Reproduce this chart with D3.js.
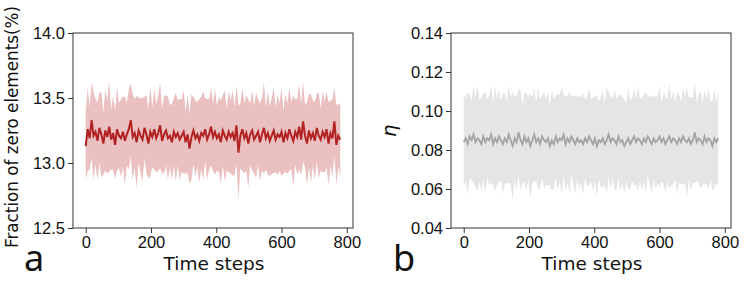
<!DOCTYPE html>
<html lang="en">
<head>
<script src="https://cdnjs.cloudflare.com/ajax/libs/d3/7.8.5/d3.min.js"></script>
<style>
	body { margin: 0; background: #fff; }
	svg { display: block; font-family: "DejaVu Sans", sans-serif; }
	.tick text { font-size: 16.5px; fill: #111; }
	.tick line { stroke: #333; }
</style>
</head>
<body>
<svg id="chart" width="747" height="282"></svg>
<script>
// time steps are sampled every 6 steps, 0..780
const stepSize = 6;

const meanZero = [13.13, 13.26, 13.19, 13.33, 13.21, 13.24, 13.17, 13.27, 13.22, 13.15, 13.25, 13.20, 13.28, 13.18, 13.23, 13.14, 13.26, 13.21, 13.19, 13.24, 13.17, 13.22, 13.26, 13.33, 13.20, 13.23, 13.16, 13.25, 13.21, 13.18, 13.27, 13.22, 13.15, 13.24, 13.20, 13.26, 13.19, 13.23, 13.29, 13.17, 13.22, 13.25, 13.19, 13.21, 13.16, 13.24, 13.20, 13.23, 13.18, 13.21, 13.24, 13.16, 13.22, 13.11, 13.20, 13.25, 13.19, 13.22, 13.17, 13.23, 13.21, 13.26, 13.18, 13.22, 13.28, 13.20, 13.24, 13.19, 13.22, 13.16, 13.25, 13.21, 13.18, 13.24, 13.20, 13.23, 13.17, 13.29, 13.08, 13.21, 13.26, 13.19, 13.23, 13.15, 13.22, 13.25, 13.18, 13.21, 13.24, 13.16, 13.22, 13.27, 13.19, 13.23, 13.17, 13.21, 13.25, 13.18, 13.22, 13.20, 13.24, 13.16, 13.23, 13.19, 13.26, 13.21, 13.17, 13.24, 13.20, 13.28, 13.18, 13.32, 13.21, 13.15, 13.25, 13.19, 13.23, 13.17, 13.27, 13.21, 13.18, 13.24, 13.20, 13.26, 13.15, 13.23, 13.19, 13.32, 13.14, 13.21, 13.18];
const sdZero = [0.26, 0.32, 0.24, 0.29, 0.34, 0.25, 0.30, 0.27, 0.33, 0.24, 0.31, 0.28, 0.35, 0.23, 0.29, 0.26, 0.32, 0.25, 0.30, 0.27, 0.34, 0.24, 0.31, 0.28, 0.33, 0.26, 0.36, 0.25, 0.29, 0.32, 0.24, 0.30, 0.27, 0.34, 0.23, 0.31, 0.26, 0.29, 0.33, 0.25, 0.30, 0.27, 0.32, 0.24, 0.29, 0.26, 0.34, 0.25, 0.31, 0.28, 0.32, 0.24, 0.30, 0.27, 0.33, 0.26, 0.29, 0.25, 0.32, 0.28, 0.34, 0.24, 0.31, 0.27, 0.30, 0.26, 0.33, 0.25, 0.29, 0.32, 0.27, 0.35, 0.24, 0.31, 0.28, 0.33, 0.26, 0.30, 0.36, 0.25, 0.32, 0.27, 0.29, 0.34, 0.24, 0.31, 0.26, 0.33, 0.25, 0.30, 0.28, 0.35, 0.24, 0.32, 0.27, 0.29, 0.33, 0.25, 0.31, 0.26, 0.34, 0.24, 0.30, 0.27, 0.32, 0.26, 0.35, 0.25, 0.29, 0.33, 0.27, 0.31, 0.24, 0.32, 0.28, 0.34, 0.25, 0.30, 0.26, 0.33, 0.24, 0.31, 0.27, 0.29, 0.32, 0.25, 0.30, 0.26, 0.31, 0.24, 0.28];

const meanEta = [0.084, 0.086, 0.083, 0.087, 0.085, 0.088, 0.084, 0.086, 0.085, 0.083, 0.087, 0.084, 0.086, 0.085, 0.088, 0.083, 0.086, 0.084, 0.087, 0.085, 0.083, 0.086, 0.084, 0.088, 0.085, 0.082, 0.086, 0.084, 0.089, 0.085, 0.083, 0.087, 0.084, 0.086, 0.082, 0.085, 0.088, 0.084, 0.086, 0.083, 0.087, 0.085, 0.084, 0.086, 0.082, 0.085, 0.083, 0.087, 0.084, 0.086, 0.085, 0.088, 0.083, 0.086, 0.084, 0.087, 0.085, 0.083, 0.086, 0.084, 0.085, 0.083, 0.086, 0.084, 0.087, 0.085, 0.083, 0.086, 0.082, 0.085, 0.084, 0.086, 0.083, 0.085, 0.088, 0.084, 0.086, 0.085, 0.083, 0.087, 0.084, 0.085, 0.082, 0.084, 0.086, 0.083, 0.085, 0.087, 0.084, 0.086, 0.085, 0.083, 0.086, 0.084, 0.087, 0.085, 0.083, 0.086, 0.084, 0.085, 0.087, 0.084, 0.086, 0.083, 0.085, 0.087, 0.084, 0.086, 0.085, 0.083, 0.086, 0.084, 0.087, 0.085, 0.084, 0.086, 0.083, 0.085, 0.089, 0.084, 0.086, 0.085, 0.083, 0.087, 0.084, 0.086, 0.085, 0.082, 0.086, 0.084, 0.086];
const sdEta = [0.024, 0.021, 0.026, 0.022, 0.020, 0.025, 0.023, 0.027, 0.021, 0.024, 0.022, 0.026, 0.020, 0.023, 0.025, 0.021, 0.027, 0.022, 0.024, 0.020, 0.026, 0.023, 0.021, 0.025, 0.022, 0.028, 0.021, 0.024, 0.022, 0.026, 0.020, 0.023, 0.025, 0.021, 0.027, 0.022, 0.024, 0.020, 0.026, 0.023, 0.021, 0.025, 0.022, 0.024, 0.020, 0.026, 0.023, 0.021, 0.025, 0.022, 0.027, 0.021, 0.024, 0.022, 0.026, 0.020, 0.023, 0.025, 0.021, 0.024, 0.022, 0.026, 0.020, 0.023, 0.025, 0.021, 0.024, 0.022, 0.026, 0.020, 0.023, 0.025, 0.021, 0.027, 0.022, 0.024, 0.020, 0.026, 0.023, 0.021, 0.025, 0.022, 0.024, 0.020, 0.026, 0.023, 0.021, 0.025, 0.022, 0.027, 0.021, 0.024, 0.022, 0.026, 0.020, 0.023, 0.025, 0.021, 0.024, 0.022, 0.026, 0.020, 0.023, 0.025, 0.021, 0.027, 0.022, 0.024, 0.020, 0.026, 0.023, 0.021, 0.025, 0.022, 0.028, 0.021, 0.024, 0.022, 0.026, 0.020, 0.023, 0.025, 0.021, 0.024, 0.022, 0.026, 0.020, 0.023, 0.025, 0.021, 0.024];

const xTicks = [0, 200, 400, 600, 800];
const yTicksZero = [12.5, 13.0, 13.5, 14.0];
const yTicksEta = [0.04, 0.06, 0.08, 0.10, 0.12, 0.14];

const svg = d3.select('#chart');

function panel(opts) {
	const x = d3.scaleLinear().domain([-39, 819]).range([opts.left, opts.left + 280]);
	const y = d3.scaleLinear().domain(opts.yDomain).range([228, 33]);
	const g = svg.append('g');

	const rows = opts.mean.map((m, i) => ({t: i * stepSize, m: m, s: opts.sd[i]}));

	g.append('path')
		.datum(rows)
		.attr('fill', opts.bandColor)
		.attr('d', d3.area().x(d => x(d.t)).y0(d => y(d.m - d.s)).y1(d => y(d.m + d.s)));

	g.append('path')
		.datum(rows)
		.attr('fill', 'none')
		.attr('stroke', opts.lineColor)
		.attr('stroke-width', opts.lineWidth)
		.attr('d', d3.line().x(d => x(d.t)).y(d => y(d.m)));

	// frame
	g.append('rect')
		.attr('x', opts.left).attr('y', 33)
		.attr('width', 280).attr('height', 195)
		.attr('fill', 'none').attr('stroke', '#333').attr('stroke-width', 1);

	g.append('g')
		.attr('transform', 'translate(0,228)')
		.call(d3.axisBottom(x).tickValues(xTicks).tickSize(5).tickPadding(3))
		.call(a => a.select('.domain').remove());

	g.append('g')
		.attr('transform', `translate(${opts.left},0)`)
		.call(d3.axisLeft(y).tickValues(opts.yTicks).tickFormat(d3.format(opts.fmt)).tickSize(5).tickPadding(3))
		.call(a => a.select('.domain').remove());

	g.append('text')
		.attr('x', opts.left + 141).attr('y', 270)
		.attr('text-anchor', 'middle')
		.attr('font-size', 18.5)
		.attr('fill', '#111')
		.text('Time steps');

	g.append('text')
		.attr('x', opts.letterX).attr('y', 271)
		.attr('font-family', '"Noto Sans", sans-serif')
		.attr('font-size', 36)
		.attr('fill', '#111')
		.text(opts.letter);
	return g;
}

const pa = panel({left: 73, yDomain: [12.5, 14.0], yTicks: yTicksZero, fmt: '.1f',
	mean: meanZero, sd: sdZero, bandColor: '#eac0c0', lineColor: '#b22222', lineWidth: 2,
	letter: 'a', letterX: 24});
pa.append('text')
	.attr('transform', 'translate(18,127) rotate(-90)')
	.attr('text-anchor', 'middle')
	.attr('font-size', 16.8)
	.attr('fill', '#111')
	.text('Fraction of zero elements(%)');

const pb = panel({left: 451, yDomain: [0.04, 0.14], yTicks: yTicksEta, fmt: '.2f',
	mean: meanEta, sd: sdEta, bandColor: '#e5e5e5', lineColor: '#a3a3a3', lineWidth: 1.8,
	letter: 'b', letterX: 393});
pb.append('text')
	.attr('transform', 'translate(396,131) rotate(-90)')
	.attr('text-anchor', 'middle')
	.attr('font-size', 20)
	.attr('font-style', 'italic')
	.attr('fill', '#111')
	.text('η');
</script>
</body>
</html>
